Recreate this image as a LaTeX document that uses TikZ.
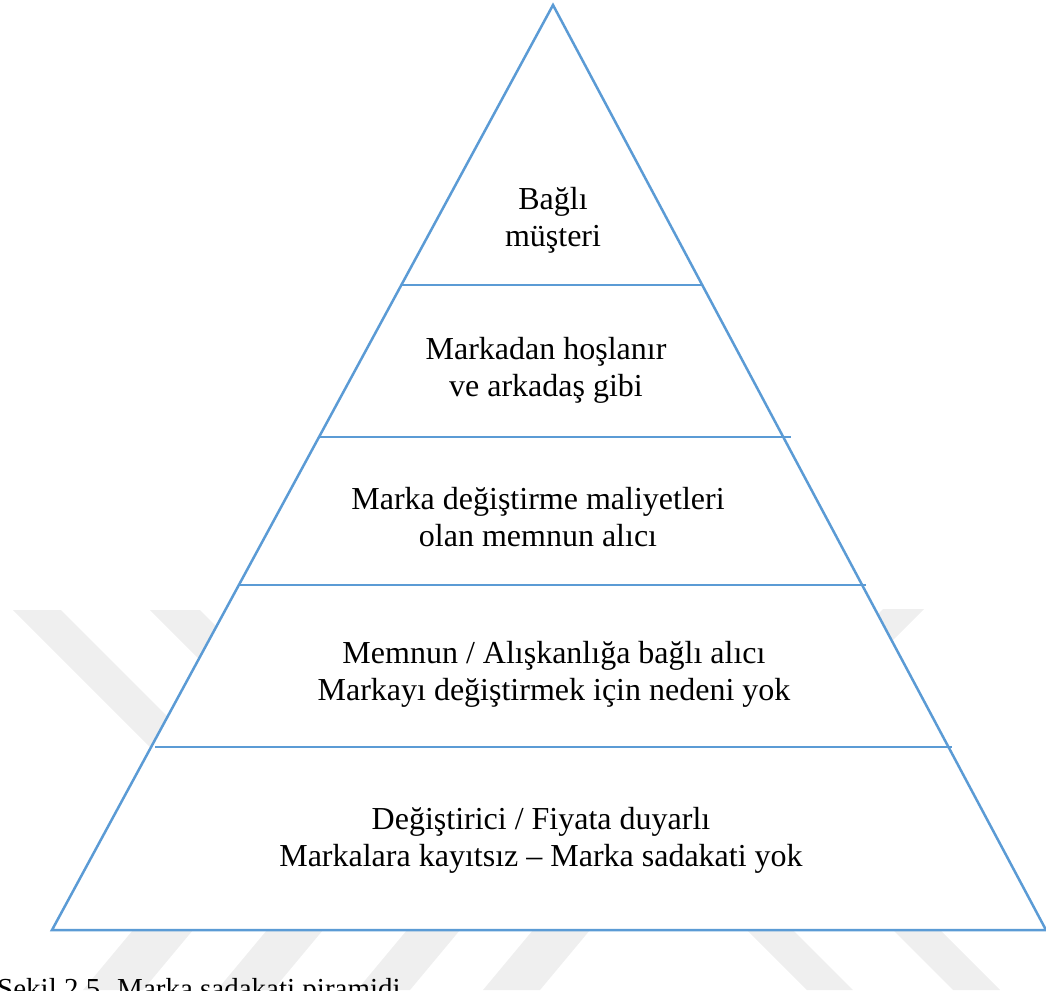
\documentclass[tikz,border=0pt]{standalone}
\usepackage{fontspec}
\setmainfont{Liberation Serif}
\definecolor{pyrblue}{RGB}{91,155,213}
\definecolor{wmark}{RGB}{239,239,239}
\tikzset{
  edge/.style={draw=pyrblue, line width=2.5pt},
  tier/.style={align=center, inner sep=0pt, font=\fontsize{32}{37}\selectfont},
  band/.style={fill=wmark, draw=none}
}
\begin{document}
\begin{tikzpicture}[x=1pt, y=-1pt]
      \useasboundingbox (0, 0) rectangle (1046, 990);
      % watermark bands
      \fill [band] (13, 610) -- (61, 610) -- (261, 810) -- (213, 810) -- cycle;
      \fill [band] (150, 610) -- (200, 610) -- (400, 810) -- (350, 810) -- cycle;
      \fill [band] (883, 609) -- (924, 609) -- (724, 809) -- (683, 809) -- cycle;
      \fill [band] (133, 930) -- (193, 930) -- (143, 990) -- (83, 990) -- cycle;
      \fill [band] (267, 930) -- (323, 930) -- (273, 990) -- (217, 990) -- cycle;
      \fill [band] (407, 930) -- (460, 930) -- (410, 990) -- (357, 990) -- cycle;
      \fill [band] (533, 930) -- (590, 930) -- (540, 990) -- (483, 990) -- cycle;
      \fill [band] (747, 930) -- (793, 930) -- (853, 990) -- (807, 990) -- cycle;
      \fill [band] (893, 930) -- (940, 930) -- (1000, 990) -- (953, 990) -- cycle;
      % pyramid
      \coordinate (apex) at (553, 5);
      \coordinate (bl) at (52, 930);
      \coordinate (br) at (1046, 930);
      \draw [edge, fill=white, line join=miter] (apex) -- (br) -- (bl) -- cycle;
      \coordinate (l1w) at (401, 285);
      \coordinate (l1e) at (703, 285);
      \coordinate (l2w) at (318, 437);
      \coordinate (l2e) at (791, 437);
      \coordinate (l3w) at (240, 585);
      \coordinate (l3e) at (866, 585);
      \coordinate (l4w) at (155, 747);
      \coordinate (l4e) at (952, 747);
      \draw [edge] (l1w) -- (l1e);
      \draw [edge] (l2w) -- (l2e);
      \draw [edge] (l3w) -- (l3e);
      \draw [edge] (l4w) -- (l4e);
      % tiers
      \node [tier] (bound) at (553, 220) {Bağlı\\müşteri};
      \node [tier] (friend) at (546, 370) {Markadan hoşlanır\\ve arkadaş gibi};
      \node [tier] (costly) at (538, 517) {Marka değiştirme maliyetleri\\olan memnun alıcı};
      \node [tier] (habit) at (554, 674) {Memnun / Alışkanlığa bağlı alıcı\\Markayı değiştirmek için nedeni yok};
      \node [tier] (switch) at (541, 840) {Değiştirici / Fiyata duyarlı\\Markalara kayıtsız – Marka sadakati yok};
      \node [tier, font=\fontsize{29}{34}\selectfont, anchor=base west] (caption) at (-3, 998) {Şekil 2.5. Marka sadakati piramidi};
    \end{tikzpicture}
\end{document}
